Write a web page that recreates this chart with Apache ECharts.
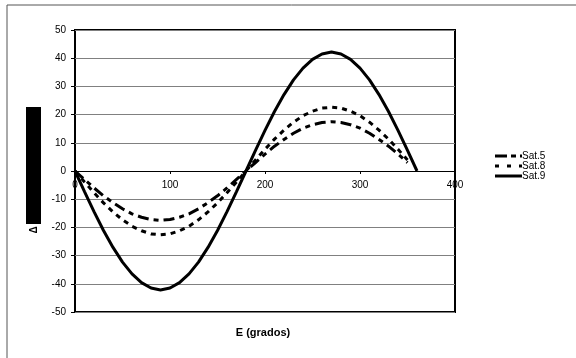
<!DOCTYPE html>
<html><head><meta charset="utf-8">
<script src="https://cdn.jsdelivr.net/npm/echarts@6/dist/echarts.min.js"></script>
<style>html,body{margin:0;padding:0;background:#fff}#c{width:576px;height:358px}</style>
</head><body><div id="c"></div>
<script>
const angles = [0,10,20,30,40,50,60,70,80,90,100,110,120,130,140,150,160,170,180,190,200,210,220,230,240,250,260,270,280,290,300,310,320,330,340,350,360];
const sat5 = [0,-3.0,-6.0,-8.8,-11.2,-13.4,-15.2,-16.4,-17.2,-17.5,-17.2,-16.4,-15.2,-13.4,-11.2,-8.8,-6.0,-3.0,0,3.0,6.0,8.8,11.2,13.4,15.2,16.4,17.2,17.5,17.2,16.4,15.2,13.4,11.2,8.8,6.0,3.0];
const sat8 = [0,-3.9,-7.7,-11.3,-14.5,-17.3,-19.6,-21.2,-22.3,-22.6,-22.3,-21.2,-19.6,-17.3,-14.5,-11.3,-7.7,-3.9,0,3.9,7.7,11.3,14.5,17.3,19.6,21.2,22.3,22.6,22.3,21.2,19.6,17.3,14.5,11.3,7.7,3.9];
const sat9 = [0,-7.3,-14.4,-21.1,-27.1,-32.3,-36.5,-39.6,-41.5,-42.2,-41.5,-39.6,-36.5,-32.3,-27.1,-21.1,-14.4,-7.3,0,7.3,14.4,21.1,27.1,32.3,36.5,39.6,41.5,42.2,41.5,39.6,36.5,32.3,27.1,21.1,14.4,7.3,0];
const seriesNames = ['Sat.5','Sat.8','Sat.9'];
const xTitle = 'E (grados)';
const yTitle = 'Δ';

const pairs = (v) => v.map((y,i)=>[angles[i], y]);
const font = '"Liberation Sans", Arial, sans-serif';
const icons = [
  'path://M0,0h12v3h-12z M16,0h5v3h-5z M25,0h2v3h-2z',
  'path://M0,0h4v3h-4z M12,0h4v3h-4z M24,0h3v3h-3z',
  'path://M0,0h27v3h-27z'
];
const chart = echarts.init(document.getElementById('c'), null, {renderer:'canvas'});
chart.setOption({
  animation:false,
  backgroundColor:'#fff',
  grid:{left:75,right:121,top:30,bottom:46,show:true,borderColor:'#000',borderWidth:2,backgroundColor:'transparent'},
  xAxis:{type:'value',min:0,max:400,interval:100,position:'bottom',offset:-141,
    axisLine:{onZero:false,lineStyle:{color:'#000',width:1}},
    axisTick:{show:true,length:3,lineStyle:{color:'#000'}},
    axisLabel:{color:'#000',fontSize:10,fontFamily:font,margin:9},
    splitLine:{show:false}
  },
  yAxis:{type:'value',min:-50,max:50,interval:10,
    axisLine:{show:false},
    axisTick:{show:true,length:4,lineStyle:{color:'#000'}},
    axisLabel:{color:'#000',fontSize:10,fontFamily:font,margin:9},
    splitLine:{show:true,lineStyle:{color:'#808080',width:1}}
  },
  legend:{orient:'vertical',left:490,top:146,itemWidth:27,itemHeight:3,itemGap:0,
    data:seriesNames.map((n,i)=>({name:n,icon:icons[i]})),
    itemStyle:{color:'#000'},
    textStyle:{fontSize:10,fontFamily:font,color:'#000',lineHeight:10,padding:[0,0,0,-5]}},
  graphic:[
    {type:'line',shape:{x1:7,y1:5,x2:576,y2:5},style:{stroke:'#555',lineWidth:1},silent:true},
    {type:'line',shape:{x1:7,y1:5,x2:7,y2:358},style:{stroke:'#555',lineWidth:1},silent:true},
    {type:'rect',shape:{x:26,y:107,width:15,height:117},style:{fill:'#000'},silent:true},
    {type:'text',x:34,y:230,rotation:Math.PI/2,style:{text:yTitle,font:'bold 10px '+font,fill:'#000',align:'center',verticalAlign:'middle'},silent:true},
    {type:'text',x:263,y:333,style:{text:xTitle,font:'bold 11px '+font,fill:'#000',align:'center',verticalAlign:'middle'},silent:true}
  ],
  series:[
    {name:seriesNames[0],type:'line',data:pairs(sat5),symbol:'none',lineStyle:{color:'#000',width:3,type:[11,5,5,5]},itemStyle:{color:'#000'}},
    {name:seriesNames[1],type:'line',data:pairs(sat8),symbol:'none',lineStyle:{color:'#000',width:3,type:[5,5]},itemStyle:{color:'#000'}},
    {name:seriesNames[2],type:'line',data:pairs(sat9),symbol:'none',lineStyle:{color:'#000',width:3,type:'solid'},itemStyle:{color:'#000'}}
  ]
});
</script></body></html>
